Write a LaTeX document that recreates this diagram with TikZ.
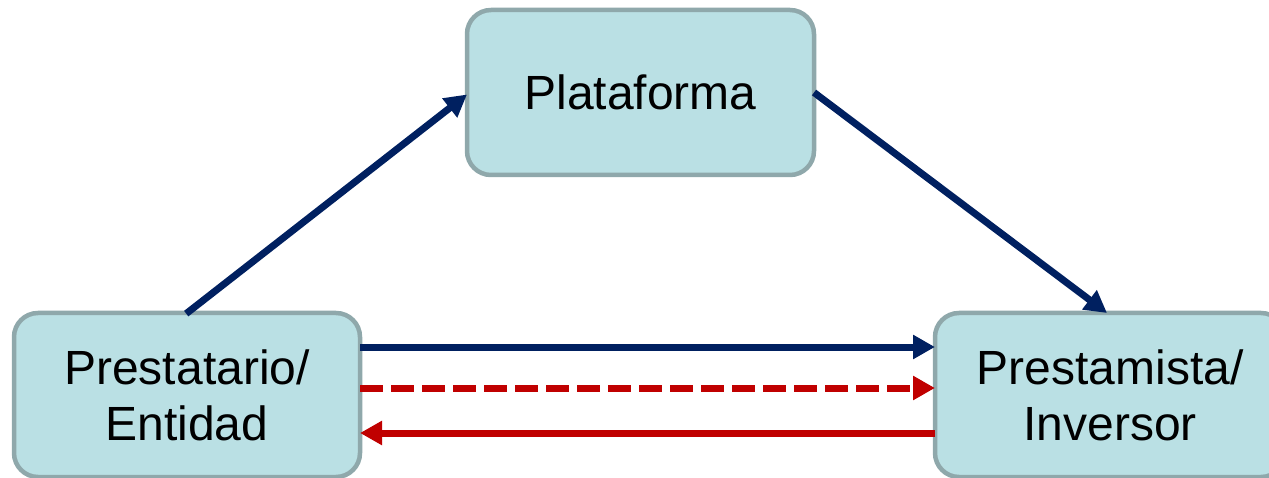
\documentclass[tikz,border=0pt]{standalone}
\usepackage{fontspec}
\setmainfont{Liberation Sans}
\usetikzlibrary{arrows.meta}
\definecolor{boxfill}{HTML}{BAE0E4}
\definecolor{boxline}{HTML}{8FA8AB}
\definecolor{navy}{HTML}{002060}
\definecolor{darkred}{HTML}{C00000}
\begin{document}
\begin{tikzpicture}[x=1pt,y=-1pt,
  box/.style={draw=boxline,fill=boxfill,line width=4.5pt,rounded corners=24pt,
    inner sep=0pt,outer sep=0pt,align=center,font=\fontsize{48}{56}\selectfont},
  conn/.style={line width=7pt,-{Triangle[length=22pt,width=23pt]}}]
\useasboundingbox (0,0) rectangle (1269,478);
\node[box,minimum width=347pt,minimum height=165pt] (plat) at (640.5,92.5) {Plataforma};
\node[box,minimum width=346pt,minimum height=164pt] (left) at (187,395) {Prestatario/\\Entidad};
\node[box,minimum width=350pt,minimum height=164pt] (right) at (1110,395) {Prestamista/\\Inversor};
\draw[conn,navy,shorten <=-1pt] (left.north) -- ([yshift=-2pt]plat.west);
\draw[conn,navy] (plat.east) -- ([xshift=-3pt]right.north);
\draw[conn,navy] ([yshift=48pt]left.east) -- ([yshift=48pt]right.west);
\draw[conn,darkred,dash pattern=on 23pt off 8pt] ([yshift=7pt]left.east) -- ([yshift=7pt]right.west);
\draw[conn,darkred] ([yshift=-38pt]right.west) -- ([yshift=-38pt]left.east);
\end{tikzpicture}
\end{document}
